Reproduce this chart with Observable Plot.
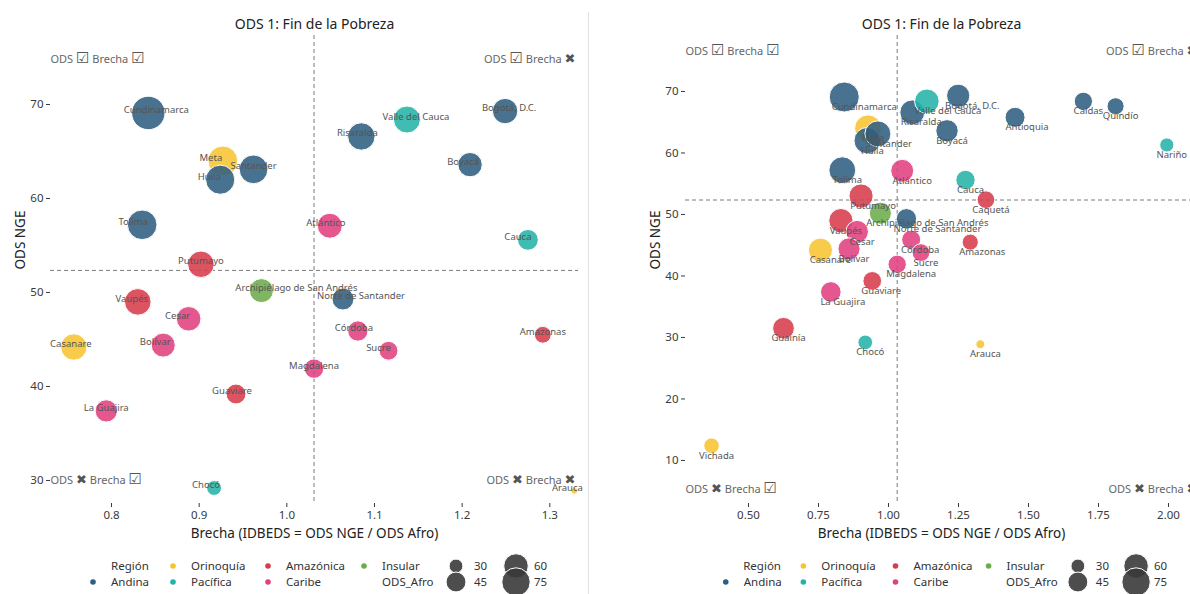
<!DOCTYPE html>
<html><head><meta charset="utf-8">
<script src="https://cdn.jsdelivr.net/npm/d3@7"></script>
<script src="https://cdn.jsdelivr.net/npm/@observablehq/plot@0.6"></script>
<style>
body{margin:0;background:#fff;}
#wrap{position:relative;width:1190px;height:594px;overflow:hidden;background:#fff;}
.panel{position:absolute;top:0;}
.panel svg{display:block;}
#sep{position:absolute;left:588px;top:12px;width:1px;height:582px;background:#e2e2e2;}
</style></head><body>
<div id="wrap">
  <div id="left" class="panel" style="left:0;width:588px"></div>
  <div id="sep"></div>
  <div id="right" class="panel" style="left:589px;width:611px"></div>
</div>
<script>
// ---- data ----
const departamentos = ["Cundinamarca","Meta","Huila","Santander","Tolima","Putumayo","Archipiélago de San Andrés","Vaupés","Cesar","Bolívar","Casanare","Guaviare","La Guajira","Guainía","Chocó","Vichada","Valle del Cauca","Bogotá, D.C.","Risaralda","Boyacá","Antioquia","Caldas","Quindío","Nariño","Atlántico","Cauca","Caquetá","Norte de Santander","Córdoba","Sucre","Amazonas","Magdalena","Arauca"];
const region = ["Andina","Orinoquía","Andina","Andina","Andina","Amazónica","Insular","Amazónica","Caribe","Caribe","Orinoquía","Amazónica","Caribe","Amazónica","Pacífica","Orinoquía","Pacífica","Andina","Andina","Andina","Andina","Andina","Andina","Pacífica","Caribe","Pacífica","Amazónica","Andina","Caribe","Caribe","Amazónica","Caribe","Orinoquía"];
const brecha = [0.842,0.927,0.924,0.962,0.835,0.902,0.971,0.830,0.888,0.859,0.757,0.942,0.794,0.625,0.917,0.368,1.137,1.249,1.085,1.209,1.452,1.696,1.811,1.994,1.049,1.275,1.348,1.064,1.081,1.116,1.292,1.031,1.328];
const odsNGE = [69.1,64.0,62.0,63.1,57.2,53.0,50.2,49.0,47.2,44.4,44.2,39.2,37.4,31.5,29.2,12.4,68.4,69.3,66.6,63.6,65.8,68.4,67.6,61.3,57.1,55.6,52.4,49.3,45.9,43.8,45.5,41.9,28.9];
const odsAfro = [82.1,69.0,67.1,65.6,68.5,58.8,51.7,59.0,53.2,51.7,58.4,41.6,47.1,50.4,31.8,33.7,60.2,55.5,61.4,52.6,45.3,40.3,37.3,30.7,54.4,43.6,38.9,46.3,42.5,39.2,35.2,40.6,21.8];

const regiones = ["Andina","Orinoquía","Pacífica","Amazónica","Caribe","Insular"];
const colores = ["#2f5f7f","#f7c431","#25b3a8","#d73c4c","#e0407f","#6cac4b"];
const sizeBreaks = [30,45,60,75];
const refBrecha = 1.031, refNGE = 52.35;
const titulo = "ODS 1: Fin de la Pobreza";
const ejeX = "Brecha (IDBEDS = ODS NGE / ODS Afro)";
const ejeY = "ODS NGE";
const cuadrantes = ["ODS ☑ Brecha ☑","ODS ☑ Brecha ✖","ODS ✖ Brecha ☑","ODS ✖ Brecha ✖"];
const leftXTicks = [0.8,0.9,1.0,1.1,1.2,1.3];
const leftYTicks = [30,40,50,60,70];
const rightXTicks = [0.5,0.75,1.0,1.25,1.5,1.75,2.0];
const rightYTicks = [10,20,30,40,50,60,70];

const rows = departamentos.map((name,i)=>({name, region: region[i], x: brecha[i], y: odsNGE[i], afro: odsAfro[i]}));

// label nudges (pixels), styling only
const nudgeLeft = {"Cundinamarca":8,"Meta":-12,"Huila":-11,"Tolima":-9,"Archipiélago de San Andrés":35,"Vaupés":-6,"Cesar":-11,"Bolívar":-8,"Chocó":-8,"Norte de Santander":18,"Sucre":-10,"Arauca":-7,"Valle del Cauca":9,"Boyacá":-7,"Cauca":-10,"Guaviare":-4,"Risaralda":-4,"Atlántico":-4,"Córdoba":-4,"Bogotá, D.C.":4,"Casanare":-3};
const nudgeRight = {"Cundinamarca":20,"Valle del Cauca":21,"Bogotá, D.C.":14,"Antioquia":12,"Archipiélago de San Andrés":47,"Norte de Santander":31,"Magdalena":14,"Amazonas":12,"Putumayo":12,"La Guajira":12,"Santander":11,"Casanare":10,"Atlántico":10,"Risaralda":9,"Guaviare":9,"Córdoba":9};

const FONT = "'Segoe UI','Noto Sans','Open Sans',sans-serif";

function makePanel(c){
  const kx = (c.width - c.marginLeft - c.marginRight) / (c.xDomain[1]-c.xDomain[0]);
  const data = rows.filter(d => d.x >= c.xDomain[0] && d.x <= c.xDomain[1]);
  const qStyle = {fontSize: 11, fill: "#666", text: d => d, lineAnchor: "middle"};
  return Plot.plot({
    width: c.width, height: 548, marginTop: 35, marginBottom: 45, marginLeft: c.marginLeft, marginRight: c.marginRight,
    style: {fontFamily: FONT, fontSize: "11px", background: "white", overflow: "visible"},
    x: {domain: c.xDomain},
    y: {domain: c.yDomain},
    r: {type: "sqrt", domain: [0, 60], range: [0, c.rMax]},
    color: {domain: regiones, range: colores},
    marks: [
      Plot.axisX({ticks: c.xTicks, tickFormat: c.xFmt, tickSize: 4, tickPadding: 3, label: null, fontSize: 11.5, color: "#3a3a3a"}),
      Plot.axisY({ticks: c.yTicks, tickFormat: d => d, tickSize: 4, tickPadding: 3, label: null, fontSize: 11.5, color: "#3a3a3a"}),
      Plot.ruleX([refBrecha], {stroke: "#7a7a7a", strokeDasharray: "4,3", strokeWidth: 1}),
      Plot.ruleY([refNGE], {stroke: "#7a7a7a", strokeDasharray: "4,3", strokeWidth: 1}),
      Plot.dot(data, {x: "x", y: "y", r: d => d.afro - c.rOffset, fill: "region", fillOpacity: 0.88, stroke: "white", strokeWidth: 1}),
      Plot.text(data, {x: d => d.x + (c.nudge[d.name] ?? c.dxDefault)/kx, y: "y", text: "name", dy: c.labelDy, fontSize: 9.5, fill: "#555"}),
      Plot.text([titulo], {text: d => d, frameAnchor: "top", lineAnchor: "middle", dy: -11, fontSize: 14, fill: "#222"}),
      Plot.text([ejeY], {text: d => d, frameAnchor: "left", dx: -30, rotate: -90, fontSize: 13.5, fill: "#222"}),
      Plot.text([ejeX], {text: d => d, frameAnchor: "bottom", lineAnchor: "middle", dy: 30, fontSize: 13.5, fill: "#222"}),
      Plot.text([cuadrantes[0]], {...qStyle, frameAnchor: "top-left", textAnchor: "start", dy: c.qTop}),
      Plot.text([cuadrantes[1]], {...qStyle, frameAnchor: "top-right", textAnchor: "end", dy: c.qTop, dx: c.qRightDx}),
      Plot.text([cuadrantes[2]], {...qStyle, frameAnchor: "bottom-left", textAnchor: "start", dy: c.qBottom}),
      Plot.text([cuadrantes[3]], {...qStyle, frameAnchor: "bottom-right", textAnchor: "end", dy: c.qBottom, dx: c.qRightDx})
    ]
  });
}

// enlarge the check/cross symbols inside the quadrant notes
function enlargeGlyphs(svg){
  d3.select(svg).selectAll("text").each(function(){
    const t = this.textContent;
    if (!/[☑✖]/.test(t) || this.querySelector("tspan")) return;
    const sel = d3.select(this);
    sel.text(null);
    t.split(/([☑✖])/).forEach(part => {
      if (!part) return;
      const ts = sel.append("tspan").text(part);
      if (part === "☑") ts.attr("font-size", 15).attr("font-family", "'DejaVu Sans'").attr("fill", "#555");
      else if (part === "✖") ts.attr("font-size", 13).attr("font-family", "'DejaVu Sans'").attr("fill", "#555");
    });
  });
  return svg;
}

function makeLegend(width, cx, spread, rMaxLegend, rOffsetLegend){
  const svg = d3.create("svg").attr("width", width).attr("height", 46)
    .style("font-family", FONT).style("font-size", "11.5px").style("display","block");
  const X = o => cx + o*spread;
  const r1 = 18, r2 = 34, tc = "#333";
  svg.append("text").attr("x", X(-207)).attr("y", r1).attr("dy","0.35em").attr("fill", tc).text("Región");
  const items = [[regiones[0], -225, r2],[regiones[1], -145, r1],[regiones[2], -145, r2],[regiones[3], -50, r1],[regiones[4], -50, r2],[regiones[5], 46, r1]];
  items.forEach(([name, o, y]) => {
    svg.append("circle").attr("cx", X(o)).attr("cy", y).attr("r", 2.8).attr("fill", colores[regiones.indexOf(name)]);
    svg.append("text").attr("x", X(o)+18).attr("y", y).attr("dy","0.35em").attr("fill", tc).text(name);
  });
  svg.append("text").attr("x", X(64)).attr("y", r2).attr("dy","0.35em").attr("fill", tc).text("ODS_Afro");
  const rs = d3.scaleSqrt().domain([0,60]).range([0,rMaxLegend]);
  const pos = [[138, r1],[138, r2],[198, r1],[198, r2]];
  sizeBreaks.forEach((v,i) => {
    const [o,y] = pos[i];
    svg.append("circle").attr("cx", X(o)).attr("cy", y).attr("r", rs(v - rOffsetLegend))
      .attr("fill", "#3a3a3a").attr("fill-opacity", 0.9).attr("stroke","white").attr("stroke-width",1);
  });
  sizeBreaks.forEach((v,i) => {
    const [o,y] = pos[i];
    svg.append("text").attr("x", X(o)+18).attr("y", y).attr("dy","0.35em").attr("fill", tc).text(v);
  });
  return svg.node();
}

const left = makePanel({
  width: 588, marginLeft: 50, marginRight: 10,
  xDomain: [0.7304, 1.3327], yDomain: [27.55, 77.34],
  xTicks: leftXTicks, yTicks: leftYTicks, xFmt: d3.format(".1f"),
  rOffset: 19.3, rMax: 16.34, labelDy: -3, dxDefault: 0, nudge: nudgeLeft,
  qTop: 24, qBottom: -23, qRightDx: -3
});
const right = makePanel({
  width: 611, marginLeft: 96, marginRight: 3,
  xDomain: [0.275, 2.1036], yDomain: [3.0, 79.1],
  xTicks: rightXTicks, yTicks: rightYTicks, xFmt: d3.format(".2f"),
  rOffset: 16, rMax: 14.32, labelDy: 10, dxDefault: 5, nudge: nudgeRight,
  qTop: 16, qBottom: -14, qRightDx: 0
});
document.getElementById("left").append(enlargeGlyphs(left), makeLegend(588, 318, 1.0, 14.32, 16));
document.getElementById("right").append(enlargeGlyphs(right), makeLegend(611, 355, 0.97, 14.32, 16));
</script>
</body></html>
